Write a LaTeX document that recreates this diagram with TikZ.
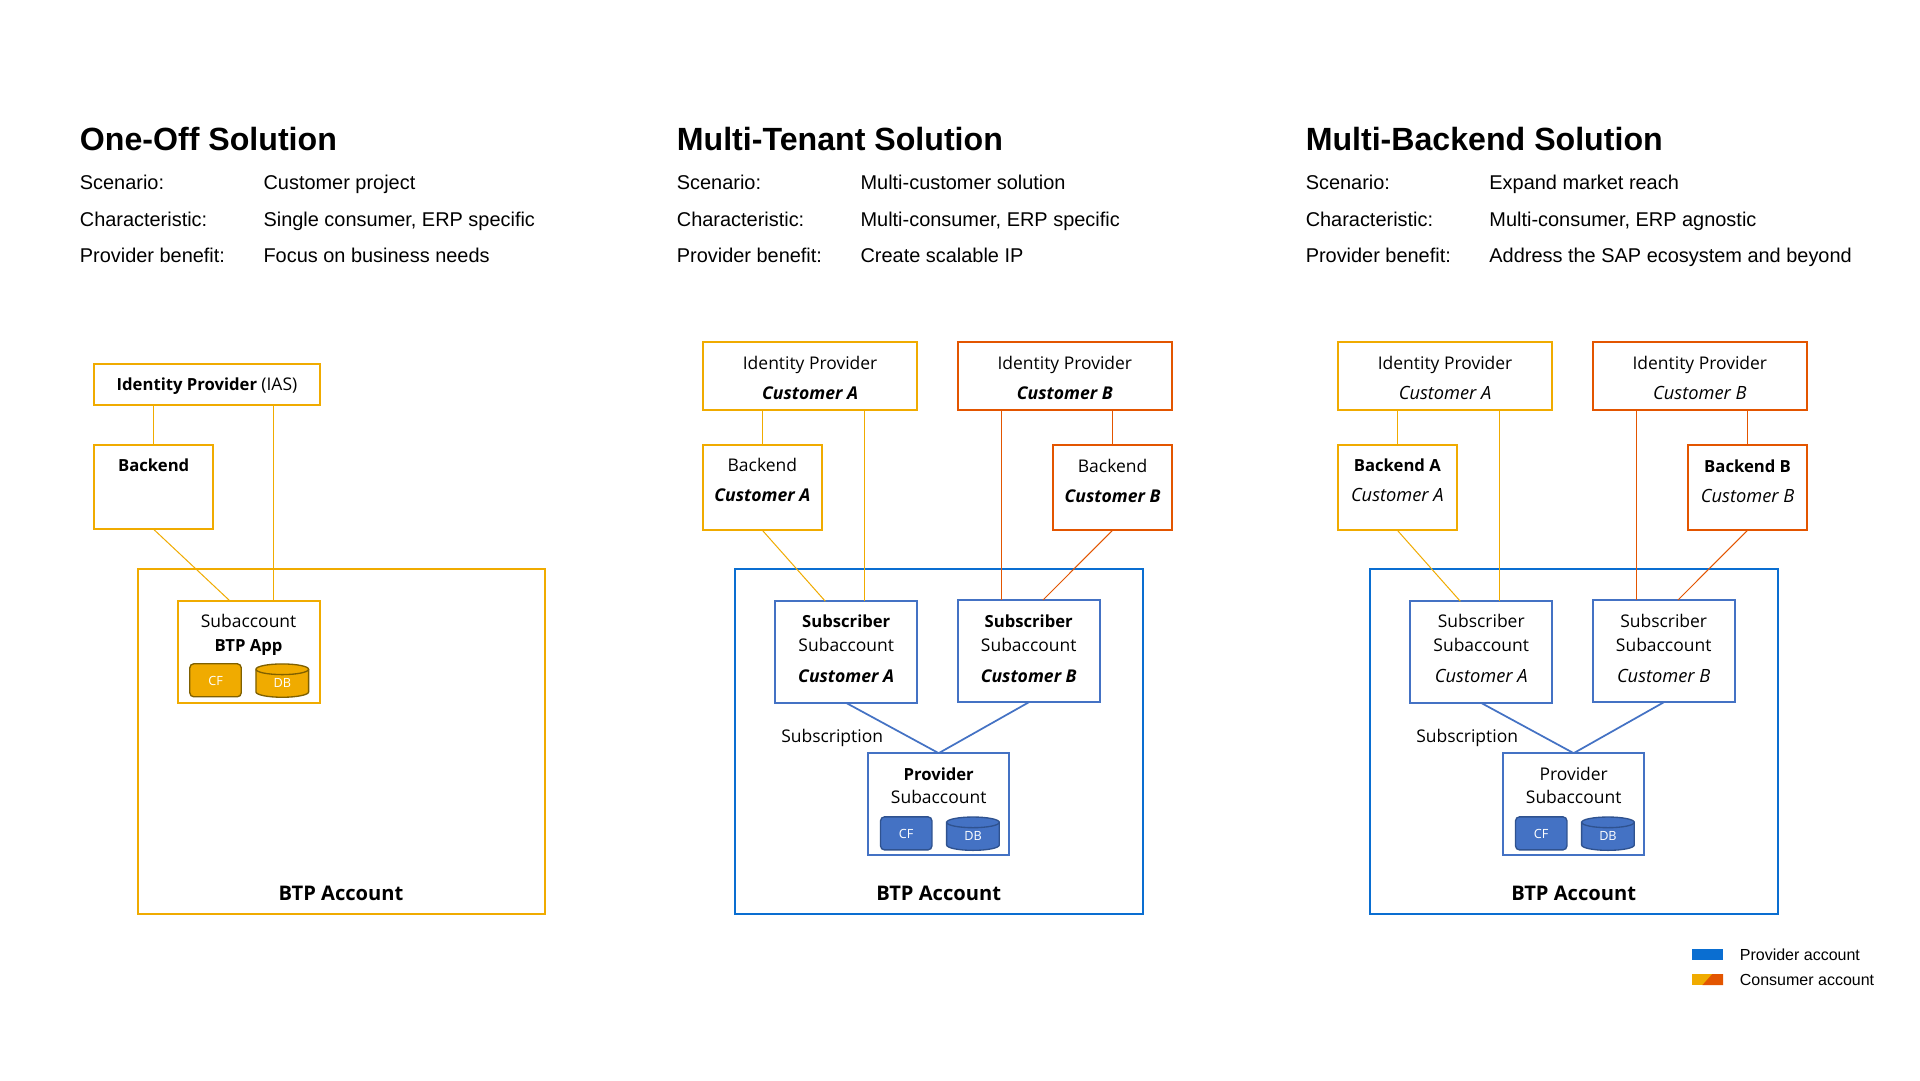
\documentclass[tikz,border=0pt]{standalone}
\usepackage{fontspec}
\setmainfont{Liberation Sans}
\newfontfamily\diag{Open Sans}
\usetikzlibrary{calc}
\definecolor{yel}{HTML}{F0AB00}
\definecolor{org}{HTML}{E35500}
\definecolor{acct}{HTML}{0A6ED1}
\definecolor{inblue}{HTML}{4472C4}
\definecolor{yeld}{HTML}{7F6000}
\definecolor{blued}{HTML}{2F528F}
\tikzset{
  x=0.9185pt,y=-0.9185pt,
  boxst/.style={rectangle,inner sep=0pt,outer sep=0pt,line width=1.5pt,fill=none},
  thin line/.style={line width=0.75pt},
  subline/.style={line width=1.3pt,draw=inblue},
  txt/.style={anchor=base,inner sep=0pt,font=\diag\fontsize{13.1}{15}\selectfont,text=black},
  btxt/.style={txt,font=\diag\bfseries\fontsize{12.5}{15}\selectfont},
  itxt/.style={txt,font=\diag\itshape\fontsize{13.7}{15}\selectfont},
  bitxt/.style={txt,font=\diag\bfseries\itshape\fontsize{13.2}{15}\selectfont},
  acctxt/.style={txt,font=\diag\bfseries\fontsize{15.1}{18}\selectfont},
  head/.style={anchor=base west,inner sep=0pt,font=\bfseries\fontsize{24.1}{28}\selectfont},
  row/.style={anchor=base west,inner sep=0pt,font=\fontsize{14.95}{18}\selectfont},
  leg/.style={anchor=base west,inner sep=0pt,font=\fontsize{12}{15}\selectfont},
  cfbox/.style={rectangle,rounded corners=3pt,inner sep=0pt,outer sep=0pt,line width=1pt},
  cft/.style={anchor=base,inner sep=0pt,text=white,font=\diag\fontsize{9.5}{11}\selectfont},
}
\newcommand{\bnone}[1]{}
\newcommand{\bletter}[1]{ #1}
\newcommand{\bx}[6]{%
  \pgfmathsetmacro\bw{((#4)-(#2))*0.9185}\pgfmathsetmacro\bh{((#5)-(#3))*0.9185}%
  \node[boxst,draw=#6,minimum width=\bw pt,minimum height=\bh pt] (#1) at ({((#2)+(#4))/2},{((#3)+(#5))/2}) {};}
% CF box and DB cylinder: prefix, left x, top y, fill, stroke
\newcommand{\cfdb}[5]{%
  \pgfmathsetmacro\cfw{42*0.9185}\pgfmathsetmacro\cfh{27*0.9185}%
  \node[cfbox,draw=#5,fill=#4,minimum width=\cfw pt,minimum height=\cfh pt] (#1cf) at ({#2+21},{#3+13.5}) {};
  \node[cft] (#1cft) at ({#2+21},{#3+18}) {CF};
  \pgfmathsetmacro\dbr{21.5*0.9185}%
  \draw[line width=1pt,draw=#5,fill=#4] ({#2+54},{#3+4.5}) -- ({#2+54},{#3+23}) arc[start angle=180,end angle=360,x radius=\dbr pt,y radius=4pt] -- ({#2+97},{#3+4.5}) arc[start angle=0,end angle=180,x radius=\dbr pt,y radius=4pt] -- cycle;
  \draw[line width=1pt,draw=#5] ({#2+54},{#3+4.5}) arc[start angle=180,end angle=360,x radius=\dbr pt,y radius=4pt];
  \node[cft] (#1dbt) at ({#2+75.5},{#3+19.5}) {DB};
}
% Header: prefix, x, title, three values
\newcommand{\hdr}[6]{%
  \node[head] (#1title) at (#2,123.3) {#3};
  \node[row] (#1k1) at (#2,154.5) {Scenario:};
  \node[row] (#1k2) at (#2,184.8) {Characteristic:};
  \node[row] (#1k3) at (#2,214.3) {Provider benefit:};
  \node[row] (#1v1) at ({#2+150},154.5) {#4};
  \node[row] (#1v2) at ({#2+150},184.8) {#5};
  \node[row] (#1v3) at ({#2+150},214.3) {#6};
}
% Multi column: prefix, offset, idp style, cust style, backend style, backend suffix macro, subscriber style, provider style
\newcommand{\mcol}[8]{%
  \bx{#1acc}{600+#2}{465}{933+#2}{746}{acct}
  \bx{#1idpA}{574+#2}{279}{749+#2}{335}{yel}
  \bx{#1idpB}{782+#2}{279}{957+#2}{335}{org}
  \bx{#1bA}{574+#2}{363}{671+#2}{433}{yel}
  \bx{#1bB}{860+#2}{363.5}{957+#2}{433}{org}
  \bx{#1sA}{633+#2}{491}{749+#2}{574}{inblue}
  \bx{#1sB}{782+#2}{490}{898+#2}{573.5}{inblue}
  \bx{#1pr}{709+#2}{615}{824+#2}{698}{inblue}
  \coordinate (#1p1) at ($(#1sA.north west)!.63!(#1sA.north east)$);
  \coordinate (#1p2) at ($(#1sA.north west)!.353!(#1sA.north east)$);
  \coordinate (#1p3) at ($(#1sB.north west)!.31!(#1sB.north east)$);
  \coordinate (#1p4) at ($(#1sB.north west)!.60!(#1sB.north east)$);
  \draw[thin line,yel] (#1idpA.south -| #1bA.north) -- (#1bA.north);
  \draw[thin line,yel] (#1idpA.south -| #1p1) -- (#1p1);
  \draw[thin line,yel] (#1bA.south) -- (#1p2);
  \draw[thin line,org] (#1idpB.south -| #1bB.north) -- (#1bB.north);
  \draw[thin line,org] (#1idpB.south -| #1p3) -- (#1p3);
  \draw[thin line,org] (#1bB.south) -- (#1p4);
  \draw[subline] (#1sA.south) -- (#1pr.north);
  \draw[subline] (#1sB.south) -- (#1pr.north);
  \node[txt] (#1t1) at (661.5+#2,301.5) {Identity Provider};
  \node[#3] (#1t2) at (661.5+#2,326.3) {Customer A};
  \node[txt] (#1t3) at (869.5+#2,301.5) {Identity Provider};
  \node[#3] (#1t4) at (869.5+#2,326.3) {Customer B};
  \node[#5] (#1t5) at (622.5+#2,385) {Backend#6{A}};
  \node[#4] (#1t6) at (622.5+#2,409.8) {Customer A};
  \node[#5] (#1t7) at (908.5+#2,385.5) {Backend#6{B}};
  \node[#4] (#1t8) at (908.5+#2,410.3) {Customer B};
  \node[#7] (#1t9) at (691+#2,512) {Subscriber};
  \node[txt] (#1t10) at (691+#2,532) {Subaccount};
  \node[#4] (#1t11) at (691+#2,557) {Customer A};
  \node[#7] (#1t12) at (840+#2,512) {Subscriber};
  \node[txt] (#1t13) at (840+#2,532) {Subaccount};
  \node[#4] (#1t14) at (840+#2,557) {Customer B};
  \node[txt] (#1t15) at (679.5+#2,606) {Subscription};
  \node[#8] (#1t16) at (766.5+#2,637) {Provider};
  \node[txt] (#1t17) at (766.5+#2,656.5) {Subaccount};
  \node[acctxt] (#1t18) at (766.5+#2,735) {BTP Account};
  \cfdb{#1x}{719+#2}{667}{inblue}{blued}
}
\begin{document}
\begin{tikzpicture}
\useasboundingbox (0,0) rectangle (1567.8,881.9);
\fill[white] (0,0) rectangle (1567.8,881.9);
\hdr{a}{65}{One-Off Solution}{Customer project}{Single consumer, ERP specific}{Focus on business needs}
\hdr{b}{552.5}{Multi-Tenant Solution}{Multi-customer solution}{Multi-consumer, ERP specific}{Create scalable IP}
\hdr{c}{1066}{Multi-Backend Solution}{Expand market reach}{Multi-consumer, ERP agnostic}{Address the SAP ecosystem and beyond}
% One-off
\bx{aacc}{112.5}{465}{445}{746}{yel}
\bx{aidp}{76.5}{297}{261.5}{331}{yel}
\bx{aback}{76.5}{363}{174}{432}{yel}
\bx{asub}{145}{491}{261.5}{574}{yel}
\coordinate (ap1) at ($(asub.north west)!.67!(asub.north east)$);
\coordinate (ap2) at ($(asub.north west)!.37!(asub.north east)$);
\draw[thin line,yel] (aidp.south -| aback.north) -- (aback.north);
\draw[thin line,yel] (aidp.south -| ap1) -- (ap1);
\draw[thin line,yel] (aback.south) -- (ap2);
\node[btxt] (atid) at (169,318.5) {Identity Provider {\normalfont\diag\fontsize{13.1}{15}\selectfont(IAS)}};
\node[btxt] (atb) at (125.5,385) {Backend};
\node[txt] (ats) at (203,512) {Subaccount};
\node[btxt] (ata) at (203,532) {BTP App};
\node[acctxt] (atc) at (278.5,735) {BTP Account};
\cfdb{ax}{155}{542}{yel}{yeld}
% Multi-tenant
\mcol{b}{0}{bitxt}{bitxt}{txt}{\bnone}{btxt}{btxt}
% Multi-backend
\mcol{c}{518.5}{itxt}{itxt}{btxt}{\bletter}{txt}{txt}
% Legend
\fill[acct] (1382,775) rectangle (1407,784);
\fill[yel] (1382,795.5) rectangle (1407,804.5);
\fill[org] (1398,795.5) -- (1407,795.5) -- (1407,804.5) -- (1390,804.5) -- cycle;
\node[leg] (lg1) at (1420.5,784.5) {Provider account};
\node[leg] (lg2) at (1420.5,805) {Consumer account};
\end{tikzpicture}
\end{document}
